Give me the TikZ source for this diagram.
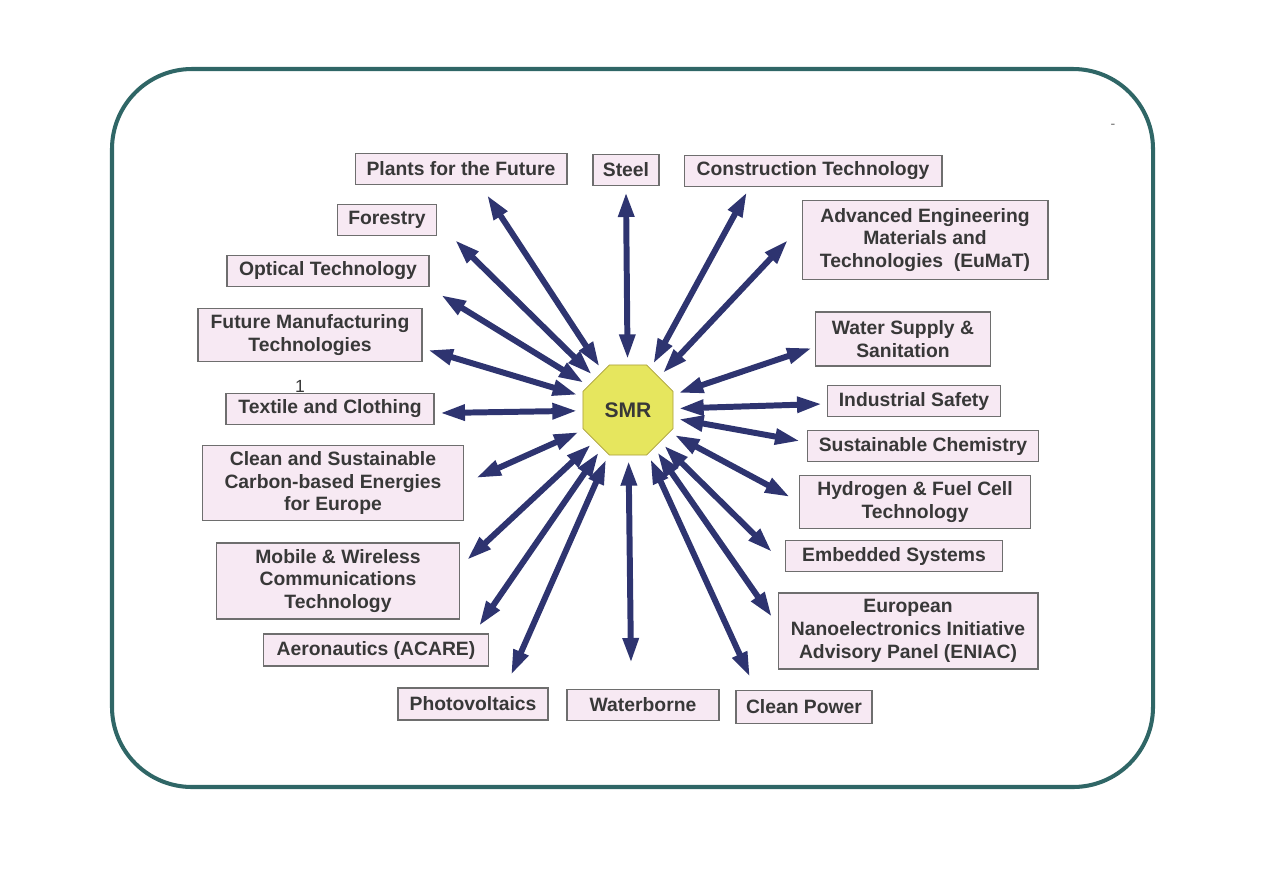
\documentclass[tikz,border=0pt]{standalone}
\usepackage{fontspec}
\setmainfont{Liberation Sans}
\usetikzlibrary{shapes.geometric,arrows.meta}
\definecolor{framegreen}{HTML}{2F6666}
\definecolor{arrownavy}{HTML}{2E3470}
\definecolor{boxpink}{HTML}{F7E9F3}
\definecolor{boxline}{HTML}{6E6E6E}
\definecolor{smryellow}{HTML}{E6E65E}
\definecolor{smrline}{HTML}{A89E3A}
\definecolor{txtgray}{HTML}{383838}

\begin{document}
\begin{tikzpicture}[x=0.02cm,y=-0.02cm,
  font=\fontsize{11}{13}\selectfont\bfseries,
  box/.style={draw=boxline,fill=boxpink,text=txtgray,align=center,inner sep=2pt,minimum height=0.62cm,line width=0.6pt},
  arr/.style={arrownavy,line width=3.4pt,{Triangle[length=0.5cm,width=0.3cm]}-{Triangle[length=0.5cm,width=0.3cm]},shorten <=3pt}]
\useasboundingbox (0,0) rectangle (1263,893);
\draw[framegreen,line width=2.3pt,rounded corners=1.6cm] (112,69) rectangle (1153,787);
\node[draw=smrline,fill=smryellow,regular polygon,regular polygon sides=8,minimum size=1.95cm,inner sep=0pt,
  text=txtgray,font=\fontsize{12}{14}\selectfont\bfseries] (smr) at (628,410) {SMR};
% boxes, clockwise from the top
\node[box,minimum width=4.24cm] (pl) at (461,169) {Plants for the Future};
\node[box,minimum width=1.32cm] (st) at (626,170) {Steel};
\node[box,minimum width=5.16cm] (ct) at (813,171) {Construction Technology};
\node[box,minimum width=4.92cm,minimum height=1.58cm] (am) at (925,240) {Advanced Engineering\\Materials and\\Technologies~ (EuMaT)};
\node[box,minimum width=3.5cm,minimum height=1.08cm] (ws) at (903,339) {Water Supply \&\\Sanitation};
\node[box,minimum width=3.46cm] (is) at (914,401) {Industrial Safety};
\node[box,minimum width=4.62cm] (sc) at (923,446) {Sustainable Chemistry};
\node[box,minimum width=4.62cm,minimum height=1.06cm] (hy) at (915,502) {Hydrogen \& Fuel Cell\\Technology};
\node[box,minimum width=4.34cm] (es) at (894,556) {Embedded Systems};
\node[box,minimum width=5.2cm,minimum height=1.52cm] (en) at (908,631) {European\\Nanoelectronics Initiative\\Advisory Panel (ENIAC)};
\node[box,minimum width=2.72cm,minimum height=0.66cm] (cp) at (804,707) {Clean Power};
\node[box,minimum width=3.04cm] (wb) at (643,705) {Waterborne};
\node[box,minimum width=3.0cm,minimum height=0.64cm] (pv) at (473,704) {Photovoltaics};
\node[box,minimum width=4.5cm,minimum height=0.64cm] (ae) at (376,650) {Aeronautics (ACARE)};
\node[box,minimum width=4.86cm,minimum height=1.52cm] (mw) at (338,581) {Mobile \& Wireless\\Communications\\Technology};
\node[box,minimum width=5.22cm,minimum height=1.5cm] (cs) at (333,483) {Clean and Sustainable\\Carbon-based Energies\\for Europe};
\node[box,minimum width=4.16cm] (tc) at (330,409) {Textile and Clothing};
\node[box,minimum width=4.48cm,minimum height=1.06cm] (fm) at (310,335) {Future Manufacturing\\Technologies};
\node[box,minimum width=4.04cm] (ot) at (328,271) {Optical Technology};
\node[box,minimum width=1.98cm] (fo) at (387,220) {Forestry};
\node[text=txtgray,font=\fontsize{10}{12}\selectfont] (one) at (300,386) {1};
\node[text=boxline,font=\fontsize{8}{10}\selectfont] (dash) at (1113,126) {-};
% outer arrow tips
\foreach \n/\x/\y in {pl/487/195,st/626/192,ct/747/192,am/788/240,ws/812/348,is/822/404,
  sc/800/441,hy/790/497,es/772/552,en/772/617,cp/750/677,wb/631/663,pv/511/675,ae/479/626,
  mw/467/560,cs/476/478,tc/440/413,fm/428/350,ot/441/295,fo/455/240}
  \coordinate (\n-tip) at (\x,\y);
\foreach \n in {pl,st,ct,am,ws,is,sc,hy,es,en,cp,wb,pv,ae,mw,cs,tc,fm,ot,fo}
  \draw[arr] (smr) -- (\n-tip);
\end{tikzpicture}
\end{document}
